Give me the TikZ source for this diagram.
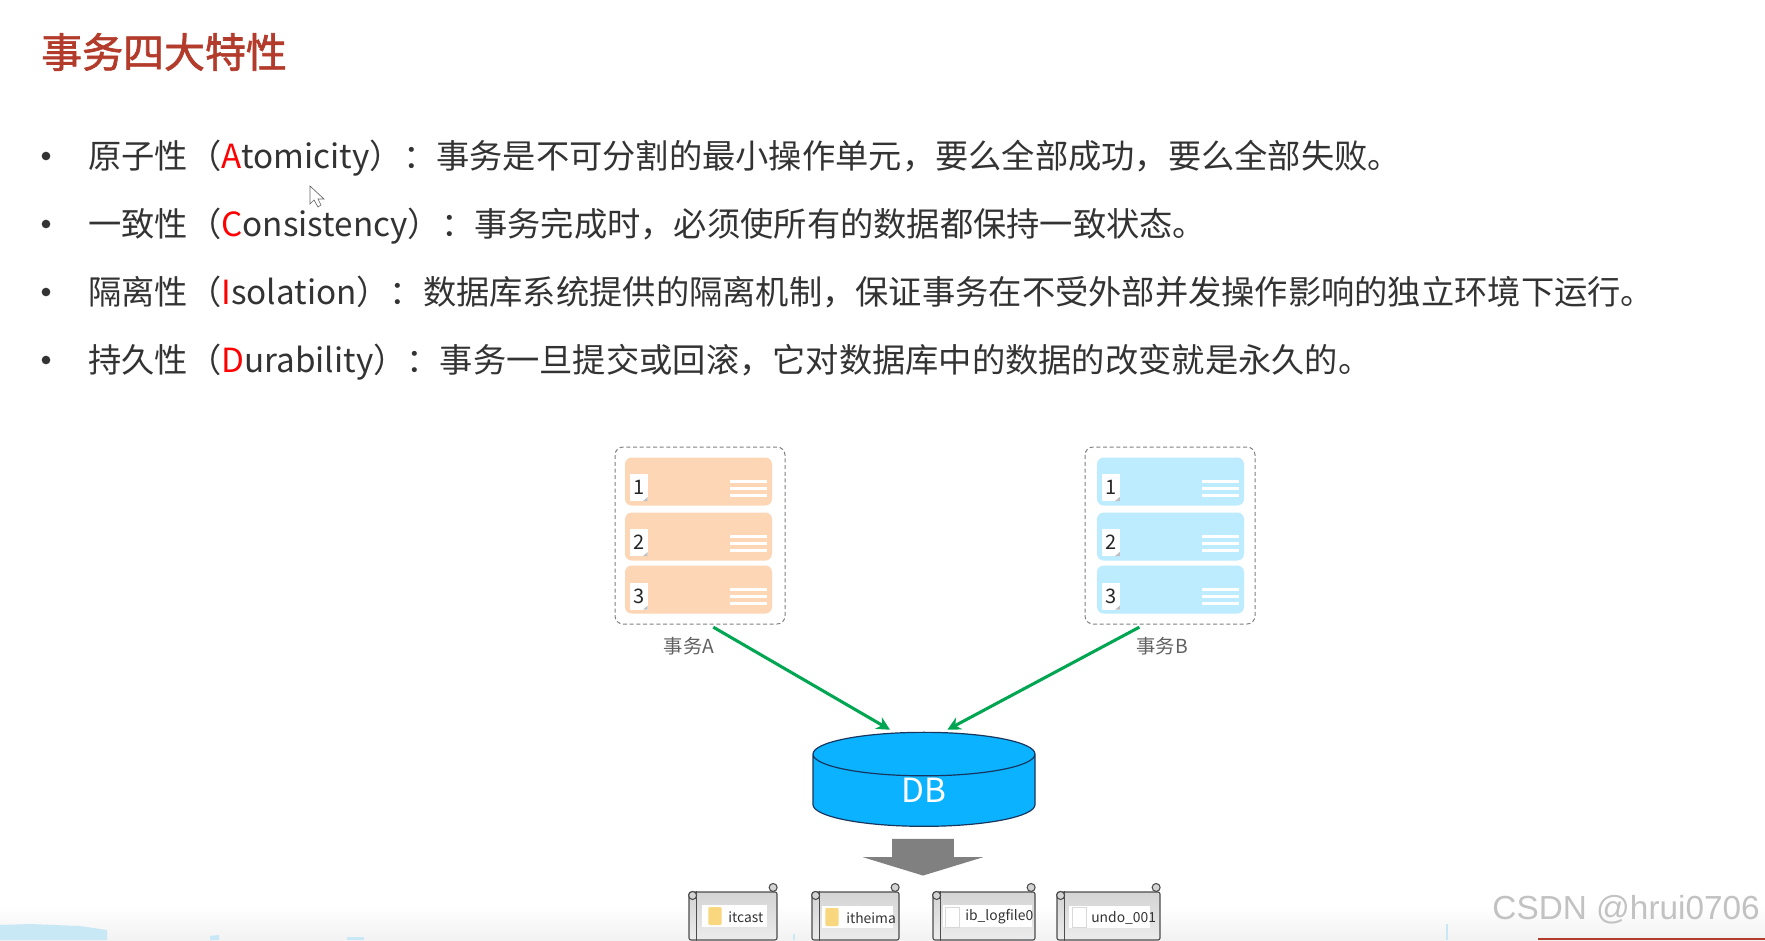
\documentclass[tikz,border=0pt]{standalone}
\usepackage{fontspec}
\usepackage{xcolor}
\setmainfont{Noto Sans CJK SC}
\newfontfamily\markfont{Liberation Sans}
\newfontfamily\titlefont[FakeBold=1.6]{Noto Sans CJK SC}
\usetikzlibrary{shapes,shapes.geometric,shapes.arrows,arrows.meta}
\definecolor{titlered}{HTML}{B23B2B}
\definecolor{bodytext}{HTML}{333333}
\definecolor{peach}{HTML}{FDD6B6}
\definecolor{skyblue}{HTML}{BDEBFF}
\definecolor{dbblue}{HTML}{0BB2FF}
\definecolor{dbline}{HTML}{17375E}
\definecolor{flowgreen}{HTML}{00A651}
\definecolor{scrollgray}{HTML}{D4D4D4}
\definecolor{scrollfade}{HTML}{ECECEC}
\definecolor{foldericon}{HTML}{F9D77E}
\definecolor{paleblue}{HTML}{C8E8F5}
\tikzstyle{item} = [anchor=west, inner sep=0pt, text height=24pt, text depth=6pt, text=bodytext, font=\fontsize{24.95pt}{28pt}\selectfont]
\tikzstyle{bulletmark} = [circle, fill=bodytext, inner sep=0pt, minimum size=6.5pt]
\tikzstyle{dashbox} = [rectangle, rounded corners=6pt, draw=gray, line width=0.75pt, dash pattern=on 3pt off 2pt, minimum width=127.5pt, minimum height=132.75pt]
\tikzstyle{card} = [rectangle, rounded corners=5pt, minimum width=110.25pt, minimum height=36pt,
path picture={
\draw[white, line width=2.2pt] ([xshift=-31.5pt]path picture bounding box.east) -- ([xshift=-3.75pt]path picture bounding box.east);
\draw[white, line width=2.2pt] ([xshift=-31.5pt,yshift=-5.25pt]path picture bounding box.east) -- ([xshift=-3.75pt,yshift=-5.25pt]path picture bounding box.east);
\draw[white, line width=2.2pt] ([xshift=-31.5pt,yshift=-10.5pt]path picture bounding box.east) -- ([xshift=-3.75pt,yshift=-10.5pt]path picture bounding box.east);
}]
\tikzstyle{tag} = [rectangle, fill=white, inner sep=0pt, minimum width=13.5pt, minimum height=20.25pt, text=black!85, font=\fontsize{15pt}{15pt}\selectfont,
path picture={
\fill[black!25] (path picture bounding box.south east) -- ([xshift=-3.5pt]path picture bounding box.south east) -- ([yshift=3pt]path picture bounding box.south east) -- cycle;
}]
\tikzstyle{txlabel} = [inner sep=0pt, text=black!62, font=\fontsize{14.5pt}{16pt}\selectfont]
\tikzstyle{arrow} = [line width=2.3pt, ->, >={Stealth[length=10pt,width=10pt]}, draw=flowgreen]
\tikzstyle{dbshape} = [cylinder, shape border rotate=90, aspect=0.97, draw=dbline, line width=0.9pt, fill=dbblue, inner sep=0pt, minimum width=166.5pt, minimum height=70.5pt, text=white, font=\fontsize{25pt}{25pt}\selectfont]
\tikzstyle{bigarrow} = [single arrow, rotate=-90, fill=black!50, inner xsep=0pt, inner ysep=22.9pt, minimum height=27.5pt, single arrow head extend=22pt, single arrow tip angle=146, single arrow head indent=0pt]
\tikzstyle{scroll} = [rectangle, rounded corners=1.5pt, draw=black!70, line width=0.8pt, top color=scrollgray, middle color=scrollgray, bottom color=scrollfade, minimum height=36pt]
\tikzstyle{scrollline} = [draw=black!70, line width=0.8pt]
\tikzstyle{filelabel} = [rectangle, fill=white, inner sep=0pt, minimum height=16.5pt]
\tikzstyle{filetext} = [inner sep=0pt, anchor=west, text=bodytext, font=\fontsize{10.4pt}{12pt}\selectfont]
\tikzstyle{folder} = [rectangle, rounded corners=1pt, fill=foldericon, inner sep=0pt, minimum width=10pt, minimum height=13.5pt]
\tikzstyle{docicon} = [rectangle, fill=white, draw=black!15, line width=0.6pt, inner sep=0pt, minimum width=11pt, minimum height=15pt]
\newcommand{\scrollcurls}[1]{
\draw[scrollline] ([xshift=6.2pt]#1.north west) -- ([xshift=6.2pt]#1.south west);
\draw[scrollline, fill=scrollgray] ([xshift=3.1pt,yshift=-3pt]#1.north west) circle (3pt);
\draw[scrollline, fill=scrollgray] ([xshift=-3.3pt,yshift=3pt]#1.north east) circle (3pt);
}

\begin{document}
\begin{tikzpicture}[x=0.75pt, y=-0.75pt]
        \useasboundingbox (0,0) rectangle (1765,940);
        \fill[white] (0,0) rectangle (1765,940);
        \shade[top color=white, bottom color=black!5] (0,905) rectangle (1765,940);
        \fill[paleblue] (0,925) -- (30,924) -- (80,926) -- (107,930) -- (107,940) -- (0,940) -- cycle;
        \fill[paleblue] (210,936) -- (219,935) -- (219,940) -- (210,940) -- cycle;
        \fill[paleblue] (347,937) rectangle (364,940);
        \fill[paleblue] (793,934) rectangle (795,940);
        \fill[paleblue] (1013,938) -- (1030,936) -- (1030,940) -- (1013,940) -- cycle;
        \fill[paleblue] (1446,924) rectangle (1448,940);
        \fill[titlered] (1538,938) rectangle (1765,940);

        \node[anchor=west, inner sep=0pt, text=titlered, font=\titlefont\fontsize{30.7pt}{32pt}\selectfont] (title) at (41,52) {事务四大特性};

        \node[bulletmark] (dot1) at (46,156) {};
        \node[bulletmark] (dot2) at (46,224) {};
        \node[bulletmark] (dot3) at (46,292) {};
        \node[bulletmark] (dot4) at (46,360) {};
        \node[item] (atomicity) at (88,156) {原子性（\textcolor{red}{A}tomicity）：事务是不可分割的最小操作单元，要么全部成功，要么全部失败。};
        \node[item] (consistency) at (88,224) {一致性（\textcolor{red}{C}onsistency）：事务完成时，必须使所有的数据都保持一致状态。};
        \node[item] (isolation) at (88,292) {隔离性（\textcolor{red}{I}solation）：数据库系统提供的隔离机制，保证事务在不受外部并发操作影响的独立环境下运行。};
        \node[item] (durability) at (88,360) {持久性（\textcolor{red}{D}urability）：事务一旦提交或回滚，它对数据库中的数据的改变就是永久的。};

        \draw[black!60, fill=white, line width=0.5pt] (310,186) -- (310,204) -- (314,200) -- (318,207) -- (321,205) -- (318,199) -- (324,199) -- cycle;

        \node[dashbox] (boxa) at (700,535.5) {};
        \node[dashbox] (boxb) at (1170,535.5) {};

        \node[card, fill=peach] (a1) at (698.5,481.5) {};
        \node[card, fill=peach] (a2) at (698.5,536.5) {};
        \node[card, fill=peach] (a3) at (698.5,589.5) {};
        \node[card, fill=skyblue] (b1) at (1170.5,481.5) {};
        \node[card, fill=skyblue] (b2) at (1170.5,536.5) {};
        \node[card, fill=skyblue] (b3) at (1170.5,589.5) {};

        \node[tag, xshift=10.5pt, yshift=-4.5pt, anchor=center] (a1n) at (a1.west) {1};
        \node[tag, xshift=10.5pt, yshift=-4.5pt, anchor=center] (a2n) at (a2.west) {2};
        \node[tag, xshift=10.5pt, yshift=-5pt, anchor=center] (a3n) at (a3.west) {3};
        \node[tag, xshift=10.5pt, yshift=-4.5pt, anchor=center] (b1n) at (b1.west) {1};
        \node[tag, xshift=10.5pt, yshift=-4.5pt, anchor=center] (b2n) at (b2.west) {2};
        \node[tag, xshift=10.5pt, yshift=-5pt, anchor=center] (b3n) at (b3.west) {3};

        \node[txlabel] (labela) at (689,646) {事务A};
        \node[txlabel] (labelb) at (1162,646) {事务B};

        \node[dbshape] (db) at (924,790.5) {DB};
        \node[bigarrow] (down) at (923,852.5) {};

        \draw[arrow] ([xshift=10pt,yshift=-2pt]boxa.south) -- ([xshift=-25.5pt,yshift=1.5pt]db.north);
        \draw[arrow] ([xshift=-23pt,yshift=-2pt]boxb.south) -- ([xshift=17.5pt,yshift=1.5pt]db.north);

        \node[scroll, minimum width=66pt] (s1) at (733,916) {};
        \node[scroll, minimum width=65.25pt] (s2) at (855.5,916) {};
        \node[scroll, minimum width=76.5pt] (s3) at (984,916) {};
        \node[scroll, minimum width=77.25pt] (s4) at (1108.5,916) {};
        \scrollcurls{s1}
        \scrollcurls{s2}
        \scrollcurls{s3}
        \scrollcurls{s4}

        \node[filelabel, minimum width=48.75pt] (l1) at (734.5,916) {};
        \node[filelabel, minimum width=53.25pt] (l2) at (857.5,917) {};
        \node[filelabel, minimum width=66.75pt] (l3) at (987.5,916) {};
        \node[filelabel, minimum width=60.75pt] (l4) at (1109.5,917) {};

        \node[folder] (f1) at (715,916) {};
        \node[folder] (f2) at (832,917) {};
        \node[docicon] (f3) at (952.5,917) {};
        \node[docicon] (f4) at (1079.5,917) {};

        \node[filetext] (itcast) at (728,917) {itcast};
        \node[filetext] (itheima) at (846,918) {itheima};
        \node[filetext] (logfile) at (965,917) {ib\_logfile0};
        \node[filetext] (undo) at (1091,918) {undo\_001};

        \node[anchor=east, inner sep=0pt, text=black!24, font=\markfont\fontsize{25pt}{28pt}\selectfont] (mark) at (1760,910) {CSDN @hrui0706};
\end{tikzpicture}
\end{document}
